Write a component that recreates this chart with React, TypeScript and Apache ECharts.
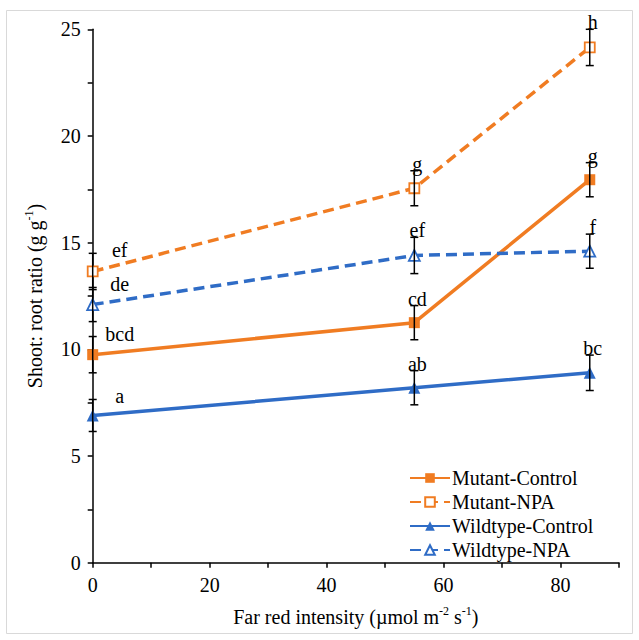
import React, { useEffect, useRef } from "react";
import * as echarts from "echarts";

const intensities = [0, 55, 85];
const seriesNames = ["Mutant-Control", "Mutant-NPA", "Wildtype-Control", "Wildtype-NPA"];
const mutantControl = [9.75, 11.25, 17.95];
const mutantNPA = [13.65, 17.55, 24.15];
const wildtypeControl = [6.9, 8.2, 8.9];
const wildtypeNPA = [12.1, 14.4, 14.6];
const mutantControlErr = [0.85, 0.8, 0.8];
const mutantNPAErr = [0.85, 0.82, 0.85];
const wildtypeControlErr = [0.75, 0.8, 0.83];
const wildtypeNPAErr = [0.8, 0.85, 0.8];
const mutantControlLetters = ["bcd", "cd", "g"];
const mutantNPALetters = ["ef", "g", "h"];
const wildtypeControlLetters = ["a", "ab", "bc"];
const wildtypeNPALetters = ["de", "ef", "f"];
const xTicks = [0, 20, 40, 60, 80];
const yTicks = [0, 5, 10, 15, 20, 25];

const ORANGE = "#F07C22";
const BLUE = "#2F6CC6";
const FONT = "Liberation Serif, Times New Roman, serif";

function pairs(vals: number[]) {
  return intensities.map((x, i) => [x, vals[i]]);
}
function errData(vals: number[], errs: number[]) {
  return intensities.map((x, i) => [x, vals[i], errs[i]]);
}

function errorSeries(vals: number[], errs: number[], letters: string[]) {
  return {
    type: "custom",
    data: errData(vals, errs),
    z: 10,
    silent: true,
    encode: { x: 0, y: 1 },
    renderItem: (params: any, api: any) => {
      const x = api.value(0);
      const y = api.value(1);
      const e = api.value(2);
      const top = api.coord([x, y + e]);
      const bot = api.coord([x, y - e]);
      const cap = 4;
      const st = { stroke: "#000", lineWidth: 1.5 };
      const isZero = x === 0;
      return {
        type: "group",
        children: [
          { type: "line", shape: { x1: top[0], y1: top[1], x2: bot[0], y2: bot[1] }, style: st },
          { type: "line", shape: { x1: top[0] - cap, y1: top[1], x2: top[0] + cap, y2: top[1] }, style: st },
          { type: "line", shape: { x1: bot[0] - cap, y1: bot[1], x2: bot[0] + cap, y2: bot[1] }, style: st },
          {
            type: "text",
            x: isZero ? top[0] + 27 : top[0] + 3,
            y: isZero ? top[1] - 3 : top[1] - 7,
            style: {
              text: letters[params.dataIndex],
              fill: "#000",
              fontSize: 20,
              fontFamily: FONT,
              align: "center",
              verticalAlign: "middle",
            },
          },
        ],
      };
    },
  };
}

export default function App() {
  const ref = useRef<HTMLDivElement>(null);
  useEffect(() => {
    if (!ref.current) return;
    const chart = echarts.init(ref.current, undefined, { renderer: "svg" });
    const lineBase = (name: string, color: string, vals: number[], dashed: boolean, symbol: string, filled: boolean, size: number) => ({
      name,
      type: "line",
      data: pairs(vals),
      symbol,
      symbolSize: size,
      showSymbol: true,
      z: 3,
      lineStyle: { color, width: 3.5, type: dashed ? [11, 6] : "solid" },
      itemStyle: { color: filled ? color : "#fff", borderColor: color, borderWidth: filled ? 0 : 1.8 },
      emphasis: { disabled: true },
    });
    const supRich = { sup: { fontSize: 12, lineHeight: 24, verticalAlign: "top", padding: [0, 0, 10, 0], fontFamily: FONT, color: "#000" } };
    chart.setOption({
      animation: false,
      backgroundColor: "#fff",
      textStyle: { fontFamily: FONT },
      grid: { left: 92.7, right: 20, top: 29.3, bottom: 77.3, containLabel: false },
      graphic: [
        {
          type: "rect",
          shape: { x: 6.5, y: 10.5, width: 626, height: 623 },
          style: { fill: "none", stroke: "#d9d9d9", lineWidth: 1 },
          silent: true,
          z: -1,
        },
      ],
      legend: {
        orient: "vertical",
        left: 404,
        top: 463,
        itemWidth: 40,
        itemHeight: 12,
        itemGap: 4,
        data: seriesNames,
        textStyle: { fontFamily: FONT, fontSize: 20, color: "#000", padding: [0, 0, 0, -3] },
      },
      xAxis: {
        type: "value",
        min: 0,
        max: 90,
        interval: 10,
        name: "Far red intensity (µmol m{sup|-2} s{sup|-1})",
        nameLocation: "middle",
        nameGap: 42,
        nameTextStyle: { fontFamily: FONT, fontSize: 20, color: "#000", lineHeight: 24, rich: supRich },
        axisLine: { show: true, onZero: false, lineStyle: { color: "#000", width: 1.5 } },
        axisTick: { show: true, length: 5, lineStyle: { color: "#000", width: 1.5 } },
        axisLabel: {
          fontFamily: FONT,
          fontSize: 20,
          color: "#000",
          margin: 12,
          formatter: (v: number) => (xTicks.includes(v) ? String(v) : ""),
        },
        splitLine: { show: false },
      },
      yAxis: {
        type: "value",
        min: 0,
        max: 25,
        interval: 2.5,
        name: "Shoot: root ratio (g g{sup|-1})",
        nameLocation: "middle",
        nameGap: 46,
        nameRotate: 90,
        nameTextStyle: { fontFamily: FONT, fontSize: 20, color: "#000", lineHeight: 24, rich: supRich },
        axisLine: { show: true, onZero: false, lineStyle: { color: "#000", width: 1.5 } },
        axisTick: { show: true, length: 5, lineStyle: { color: "#000", width: 1.5 } },
        axisLabel: {
          fontFamily: FONT,
          fontSize: 20,
          color: "#000",
          margin: 12,
          formatter: (v: number) => (yTicks.includes(v) ? String(v) : ""),
        },
        splitLine: { show: false },
      },
      series: [
        lineBase(seriesNames[0], ORANGE, mutantControl, false, "rect", true, 11),
        lineBase(seriesNames[1], ORANGE, mutantNPA, true, "rect", false, 10),
        lineBase(seriesNames[2], BLUE, wildtypeControl, false, "triangle", true, 12),
        lineBase(seriesNames[3], BLUE, wildtypeNPA, true, "triangle", false, 11),
        errorSeries(mutantControl, mutantControlErr, mutantControlLetters),
        errorSeries(mutantNPA, mutantNPAErr, mutantNPALetters),
        errorSeries(wildtypeControl, wildtypeControlErr, wildtypeControlLetters),
        errorSeries(wildtypeNPA, wildtypeNPAErr, wildtypeNPALetters),
      ],
    });
    return () => chart.dispose();
  }, []);
  return <div ref={ref} style={{ position: "fixed", left: 0, top: 0, width: 639, height: 640 }} />;
}
